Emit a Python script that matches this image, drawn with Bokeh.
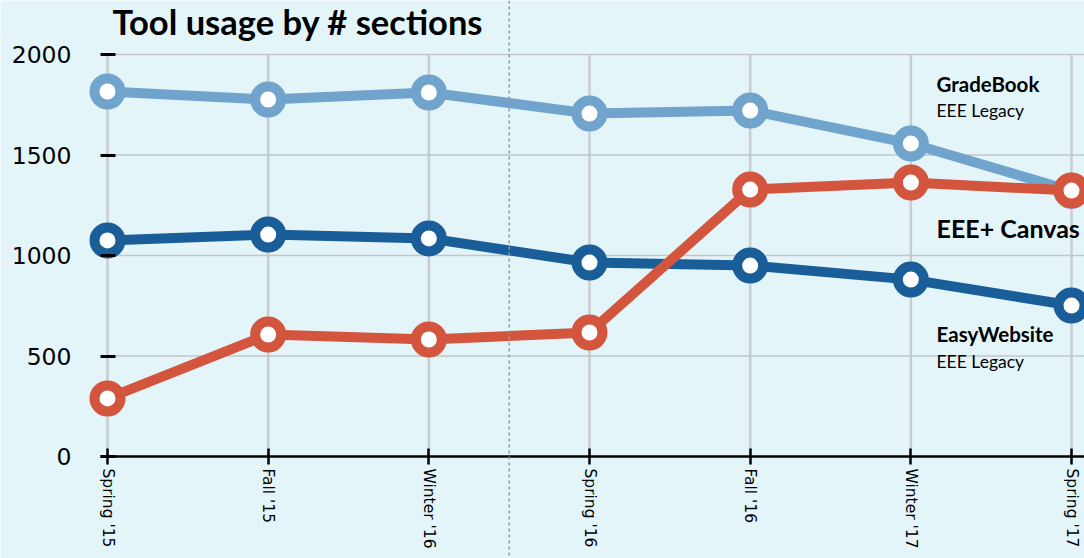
import math
from bokeh.plotting import figure
from bokeh.models import Range1d, LinearAxis, FixedTicker, Span, Label
from bokeh.embed import file_html
from bokeh.resources import INLINE

terms = ["Spring '15", "Fall '15", "Winter '16", "Spring '16", "Fall '16", "Winter '17", "Spring '17"]
gradebook = [1816, 1776, 1811, 1706, 1721, 1557, 1322]
easywebsite = [1075, 1104, 1085, 965, 950, 880, 751]
canvas = [289, 607, 582, 617, 1328, 1363, 1323]
y_ticks = [0, 500, 1000, 1500, 2000]

BG = "#e4f5fa"
C_GRADE = "#71a4cd"
C_EASY = "#195e99"
C_CANVAS = "#d4553e"

W, H = 1084, 558
PX_X = 160.67          # px per category step
X0_PX = 107            # px from left of figure to first category
PX_Y = 0.201           # px per unit
Y0_PX = 102            # px from bottom of figure to value 0

xs = list(range(len(terms)))
x_end = (W - X0_PX) / PX_X

p = figure(width=W, height=H, output_backend="svg", toolbar_location=None,
           x_axis_location=None, y_axis_location=None,
           x_range=Range1d(-X0_PX / PX_X, x_end),
           y_range=Range1d(-Y0_PX / PX_Y, (H - Y0_PX) / PX_Y),
           min_border=0, outline_line_color=None)
p.background_fill_color = BG
p.border_fill_color = BG
p.xgrid.visible = False
p.ygrid.visible = False

# grid lines
p.segment(x0=xs, y0=[0] * len(xs), x1=xs, y1=[max(y_ticks)] * len(xs),
          line_color="#c9cdd0", line_width=2.5)
p.segment(x0=[0] * 4, y0=y_ticks[1:], x1=[x_end] * 4, y1=y_ticks[1:],
          line_color="#c2c6c8", line_width=1.5)

# dashed separator
p.add_layout(Span(location=2.5, dimension="height", line_color="#8c9ba2",
                  line_width=1.5, line_dash="3 3"))

for vals, col in [(gradebook, C_GRADE), (easywebsite, C_EASY), (canvas, C_CANVAS)]:
    p.line(xs, vals, line_color=col, line_width=10)
    p.scatter(xs, vals, size=26, fill_color="white", line_color=col, line_width=10)

# axes
xaxis = LinearAxis(fixed_location=0, ticker=FixedTicker(ticks=xs),
                   major_label_overrides={i: t for i, t in enumerate(terms)},
                   bounds=(-7 / PX_X, x_end))
xaxis.axis_line_color = "black"
xaxis.axis_line_width = 2.5
xaxis.major_tick_in = 8
xaxis.major_tick_out = 8
xaxis.major_tick_line_width = 2.5
xaxis.minor_tick_line_color = None
xaxis.major_label_orientation = -math.pi / 2
xaxis.major_label_standoff = 4
xaxis.major_label_text_font = "DejaVu Sans"
xaxis.major_label_text_font_size = "15.5px"
xaxis.major_label_text_color = "black"
p.add_layout(xaxis, "below")

yaxis = LinearAxis(fixed_location=0, ticker=FixedTicker(ticks=y_ticks))
yaxis.axis_line_color = None
yaxis.major_tick_in = 8
yaxis.major_tick_out = 7
yaxis.major_tick_line_width = 3
yaxis.minor_tick_line_color = None
yaxis.major_label_standoff = 29
yaxis.major_label_text_font = "DejaVu Sans"
yaxis.major_label_text_font_size = "23.5px"
yaxis.major_label_text_color = "black"
p.add_layout(yaxis, "left")

def lab(text, x, y, size, bold):
    p.add_layout(Label(x=x, y=y, x_units="screen", y_units="screen", text=text,
                       text_font="Lato", text_font_size=size,
                       text_font_style="bold" if bold else "normal",
                       text_color="black", text_baseline="middle", text_align="left"))

lab("Tool usage by # sections", 112, 537, "34.5px", True)
lab("GradeBook", 936, 475, "20.5px", True)
lab("EEE Legacy", 936, 448, "17.5px", False)
lab("EEE+ Canvas", 936, 331, "25px", True)
lab("EasyWebsite", 936, 225, "20.5px", True)
lab("EEE Legacy", 936, 197, "17.5px", False)

open("out.html", "w").write(file_html(p, INLINE))
